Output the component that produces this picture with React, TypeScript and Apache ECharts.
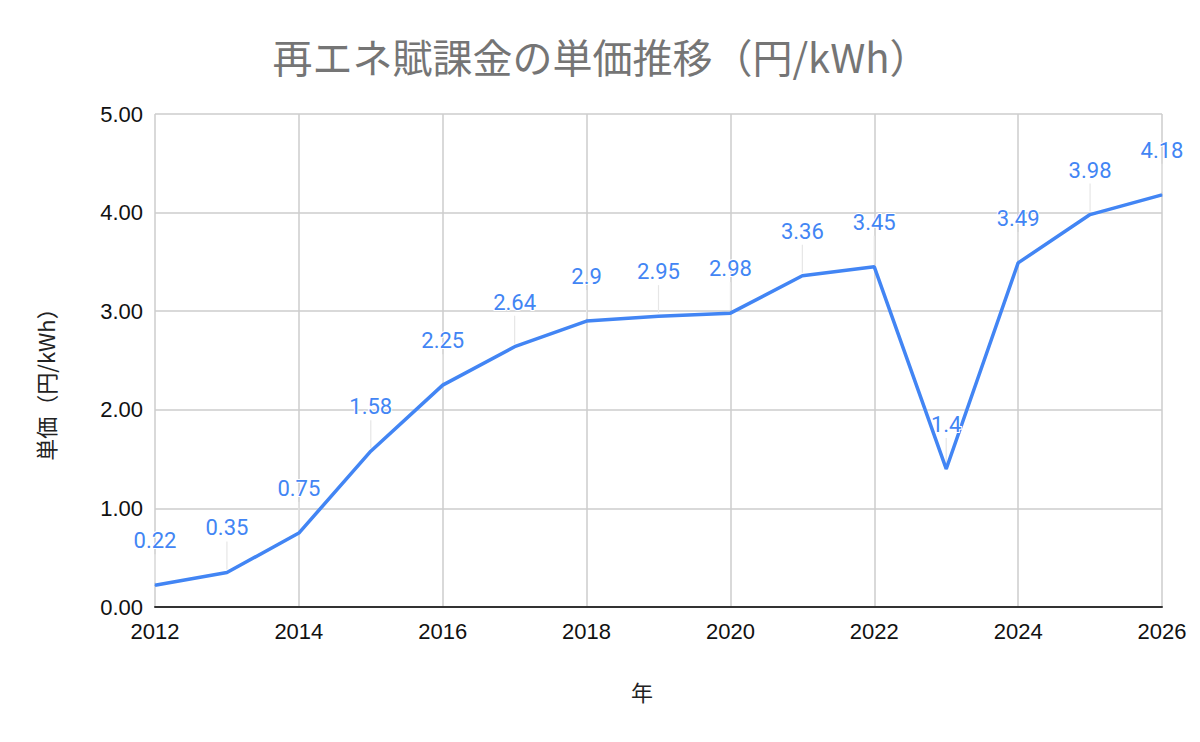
import React, { useEffect, useRef } from "react";
import * as echarts from "echarts";

const years = [2012, 2013, 2014, 2015, 2016, 2017, 2018, 2019, 2020, 2021, 2022, 2023, 2024, 2025, 2026];
const prices = [0.22, 0.35, 0.75, 1.58, 2.25, 2.64, 2.9, 2.95, 2.98, 3.36, 3.45, 1.4, 3.49, 3.98, 4.18];
const titleText = "再エネ賦課金の単価推移（円/kWh）";
const xName = "年";
const yName = "単価（円/kWh）";

export default function App() {
  const ref = useRef<HTMLDivElement>(null);
  useEffect(() => {
    document.body.style.margin = "0";
    if (!ref.current) return;
    const chart = echarts.init(ref.current, undefined, { renderer: "svg" });
    const data = years.map((y, i) => [y, prices[i]]);
    chart.setOption({
      animation: false,
      backgroundColor: "#ffffff",
      grid: { left: 155, right: 38, top: 114, bottom: 135, containLabel: false },
      graphic: [
        {
          type: "text",
          x: 601,
          y: 56,
          style: {
            text: titleText,
            font: '40px "Noto Sans CJK JP", sans-serif',
            fill: "#757575",
            align: "center",
            verticalAlign: "middle",
          },
        },
        {
          type: "text",
          x: 642,
          y: 691,
          style: {
            text: xName,
            font: '22px "Noto Sans CJK JP", sans-serif',
            fill: "#222",
            align: "center",
            verticalAlign: "middle",
          },
        },
        {
          type: "text",
          x: 45,
          y: 379,
          rotation: Math.PI / 2,
          style: {
            text: yName,
            font: '22px "Noto Sans CJK JP", sans-serif',
            fill: "#222",
            align: "center",
            verticalAlign: "middle",
          },
        },
      ],
      xAxis: {
        type: "value",
        min: 2012,
        max: 2026,
        interval: 2,
        axisLine: { show: true, lineStyle: { color: "#333", width: 2 } },
        axisTick: { show: false },
        axisLabel: {
          color: "#111",
          fontSize: 22,
          fontFamily: '"Liberation Sans", Arial, sans-serif',
          margin: 13,
          formatter: (v: number) => String(v),
        },
        splitLine: { show: true, lineStyle: { color: "#cccccc", width: 1.5 } },
      },
      yAxis: {
        type: "value",
        min: 0,
        max: 5,
        interval: 1,
        axisLine: { show: false },
        axisTick: { show: false },
        axisLabel: {
          color: "#111",
          fontSize: 22,
          fontFamily: '"Liberation Sans", Arial, sans-serif',
          margin: 12,
          formatter: (v: number) => v.toFixed(2),
        },
        splitLine: { show: true, lineStyle: { color: "#cccccc", width: 1.5 } },
      },
      series: [
        {
          type: "custom",
          z: 1,
          silent: true,
          renderItem: (params: any, api: any) => {
            const p = api.coord([api.value(0), api.value(1)]);
            return {
              type: "line",
              shape: { x1: p[0], y1: p[1] - 3, x2: p[0], y2: p[1] - 31 },
              style: { stroke: "#e6e6e6", lineWidth: 1.2 },
            };
          },
          data: data,
        },
        {
          type: "line",
          z: 3,
          data: data,
          symbol: "circle",
          symbolSize: 1,
          showSymbol: true,
          lineStyle: { color: "#4285F4", width: 3.5 },
          itemStyle: { color: "#4285F4" },
          label: {
            show: true,
            position: "top",
            distance: 32,
            color: "#4285F4",
            fontSize: 22,
            lineHeight: 24,
            fontFamily: "Roboto, sans-serif",
            textBorderColor: "#ffffff",
            textBorderWidth: 2,
            formatter: (p: any) => String(p.value[1]),
          },
        },
      ],
    });
    return () => chart.dispose();
  }, []);
  return <div ref={ref} style={{ width: 1200, height: 742 }} />;
}
